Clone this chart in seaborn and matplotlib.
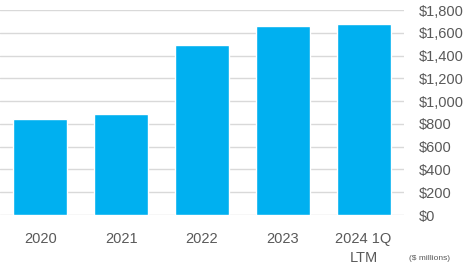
import matplotlib
matplotlib.use("Agg")
import matplotlib.pyplot as plt
import seaborn as sns
import pandas as pd
from matplotlib.ticker import FuncFormatter

categories = ["2020", "2021", "2022", "2023", "2024 1Q\nLTM"]
values = [843, 890, 1490, 1657, 1677]
yticks = [0, 200, 400, 600, 800, 1000, 1200, 1400, 1600, 1800]

sns.set_theme(style="white")
plt.rcParams['font.family'] = ['Liberation Sans', 'DejaVu Sans']

df = pd.DataFrame({"period": categories, "value": values})

fig = plt.figure(figsize=(4.74, 2.68), dpi=100)
ax = fig.add_axes([0.0, 1 - 215 / 268, 404 / 474, 205 / 268])

sns.barplot(data=df, x="period", y="value", color="#00B0F0", saturation=1,
            width=0.667, ax=ax, zorder=3)

ax.set_ylim(0, 1800)
ax.set_xlim(-0.5, 4.5)
ax.set_yticks(yticks)
ax.yaxis.set_major_formatter(FuncFormatter(lambda v, p: "${:,.0f}".format(v)))
ax.yaxis.tick_right()
ax.grid(axis="y", color="#D9D9D9", linewidth=1, zorder=0)
ax.set_axisbelow(True)
for s in ax.spines.values():
    s.set_visible(False)
ax.tick_params(axis="y", length=0, pad=11, labelsize=10.5, labelcolor="#595959")
ax.tick_params(axis="x", length=0, pad=12, labelsize=10.5, labelcolor="#595959")
for lbl in ax.get_yticklabels():
    lbl.set_ha("left")
for lbl in ax.get_xticklabels():
    lbl.set_linespacing(1.45)
ax.set_xlabel("")
ax.set_ylabel("")

fig.text(409 / 474, 1 - 258 / 268, "($ millions)", fontsize=6, color="#595959",
         ha="left", va="center")

fig.savefig("out.png", dpi=100)
